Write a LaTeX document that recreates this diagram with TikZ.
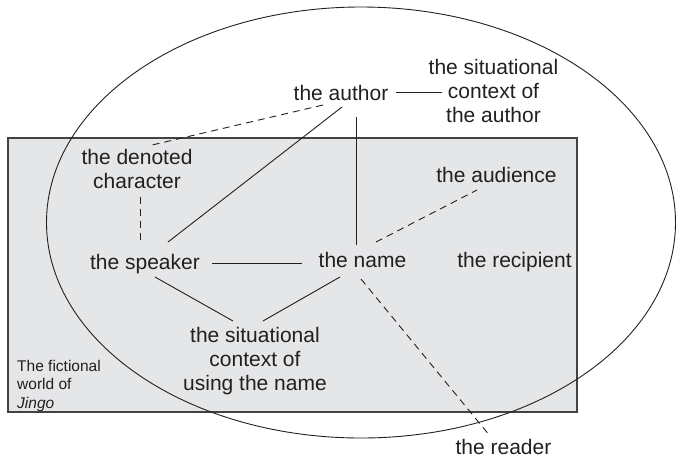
\documentclass[tikz,border=0pt]{standalone}
\usepackage{fontspec}
\setmainfont{Liberation Sans}
\definecolor{worldfill}{RGB}{229,230,232}
\definecolor{ink}{RGB}{35,31,32}
\begin{document}
\begin{tikzpicture}[x=1pt,y=-1pt,
  lbl/.style={inner sep=0pt,anchor=base,text=ink,font=\fontsize{21}{24}\selectfont,align=center},
  small/.style={inner sep=0pt,anchor=base west,text=ink,font=\fontsize{15.5}{18.5}\selectfont,align=left},
  link/.style={draw=ink,line width=0.9pt},
  dlink/.style={draw=ink,line width=0.9pt,dash pattern=on 7pt off 5pt}]
\useasboundingbox (0,0) rectangle (676,461);
% fictional world
\draw[fill=worldfill,draw=ink!85,line width=1.1pt] (8,138) rectangle (577,412);
% ellipse
\draw[ink,line width=0.9pt] (361,222.5) ellipse [x radius=314.5pt, y radius=215.5pt];
% nodes (multi-line nodes placed by the baseline of their last line)
\node[lbl] (author) at (341,100) {the author};
\node[lbl] (sitauthor) at (493.5,122.5) {the situational\\context of\\the author};
\node[lbl] (denoted) at (137,188) {the denoted\\character};
\node[lbl] (speaker) at (145,269) {the speaker};
\node[lbl] (name) at (362.5,267) {the name};
\node[lbl] (audience) at (496.5,182) {the audience};
\node[lbl] (recipient) at (514.5,267) {the recipient};
\node[lbl] (sitname) at (255,390) {the situational\\context of\\using the name};
\node[small] (world) at (17,408) {The fictional\\world of\\\textit{Jingo}};
\node[lbl] (reader) at (503.5,454) {the reader};
% connectors
\draw[link] ([xshift=8pt]author.east) -- ([xshift=13pt]author.east -| sitauthor.west);
\draw[dlink] ([shift={(-18,5)}]author.base) -- ([shift={(15,-43)}]denoted.base);
\draw[link] ([shift={(1,7)}]author.base) -- ([shift={(23,-27)}]speaker.base);
\draw[link] ([shift={(15,17)}]author.base) -- ([shift={(-6.5,-22)}]name.base);
\draw[dlink] ([shift={(3,9)}]denoted.base) -- ([shift={(-5,-26)}]speaker.base);
\draw[link] ([shift={(67,-6)}]speaker.base) -- ([shift={(-60.5,-4)}]name.base);
\draw[dlink] ([shift={(13.5,-25)}]name.base) -- ([shift={(-19.5,8)}]audience.base);
\draw[link] ([shift={(10,8)}]speaker.base) -- ([shift={(-22,-69)}]sitname.base);
\draw[link] ([shift={(-22.5,10)}]name.base) -- ([shift={(8,-69)}]sitname.base);
\draw[dlink] ([shift={(-1.5,12)}]name.base) -- ([shift={(-13.5,-18)}]reader.base);
\end{tikzpicture}
\end{document}
